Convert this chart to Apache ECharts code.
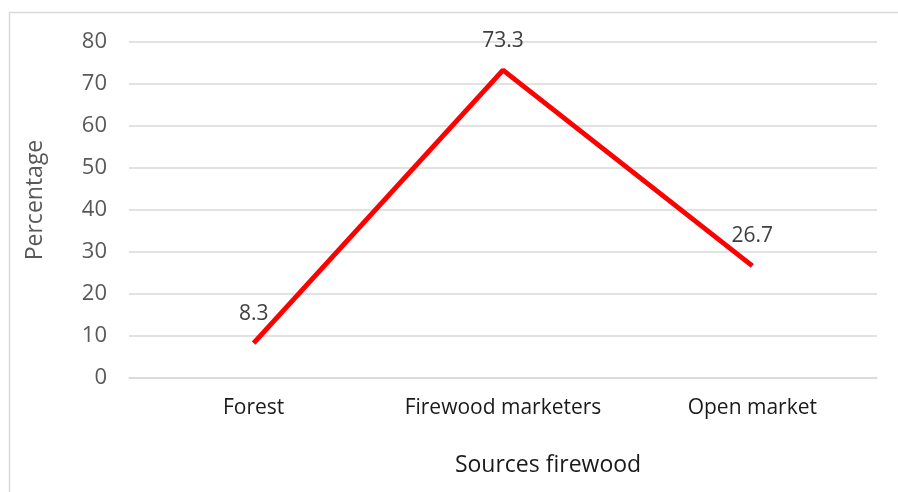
<!DOCTYPE html>
<html>
<head>
<meta charset="utf-8">
<script src="https://cdn.jsdelivr.net/npm/echarts@6/dist/echarts.min.js"></script>
<style>
  html, body { margin: 0; padding: 0; background: #fff; }
  #chart { width: 898px; height: 492px; }
</style>
</head>
<body>
<div id="chart"></div>
<script>
// Sources of firewood (percentage of respondents)
const categories = ['Forest', 'Firewood marketers', 'Open market'];
const percentages = [8.3, 73.3, 26.7];
const yTicks = { min: 0, max: 80, interval: 10 };

const font = '"Open Sans", "Noto Sans", sans-serif';

const chart = echarts.init(document.getElementById('chart'));
chart.setOption({
  animation: false,
  backgroundColor: '#ffffff',
  grid: { left: 129, right: 21, top: 42, bottom: 114 },
  xAxis: {
    type: 'category',
    data: categories,
    boundaryGap: true,
    axisLine: { show: true, lineStyle: { color: '#d9d9d9', width: 1.5 } },
    axisTick: { show: false },
    axisLabel: { color: '#1a1a1a', fontSize: 21, fontFamily: font, margin: 20, interval: 0 }
  },
  yAxis: {
    type: 'value',
    min: yTicks.min,
    max: yTicks.max,
    interval: yTicks.interval,
    axisLine: { show: false },
    axisTick: { show: false },
    axisLabel: { color: '#595959', fontSize: 22, fontFamily: font, margin: 22 },
    splitLine: { lineStyle: { color: '#d9d9d9', width: 1.5 } }
  },
  series: [{
    type: 'line',
    data: percentages,
    symbol: 'circle',
    symbolSize: 2,
    showSymbol: true,
    itemStyle: { color: 'rgba(255,0,0,0)', borderWidth: 0 },
    lineStyle: { color: '#ff0000', width: 5 },
    label: {
      show: true,
      position: 'top',
      distance: 18,
      color: '#404040',
      fontSize: 21,
      fontFamily: font,
      formatter: p => p.value.toFixed(1)
    }
  }],
  graphic: [
    {
      type: 'rect',
      shape: { x: 9.5, y: 12.5, width: 1000, height: 1000 },
      style: { fill: 'none', stroke: '#d9d9d9', lineWidth: 1.5 },
      silent: true
    },
    {
      type: 'text',
      x: 548, y: 465,
      style: {
        text: 'Sources firewood', fill: '#1a1a1a', fontSize: 23, fontFamily: font,
        textAlign: 'center', textVerticalAlign: 'middle'
      }
    },
    {
      type: 'text',
      x: 35, y: 200,
      rotation: Math.PI / 2,
      style: {
        text: 'Percentage', fill: '#595959', fontSize: 23, fontFamily: font,
        textAlign: 'center', textVerticalAlign: 'middle'
      }
    }
  ]
});
</script>
</body>
</html>
